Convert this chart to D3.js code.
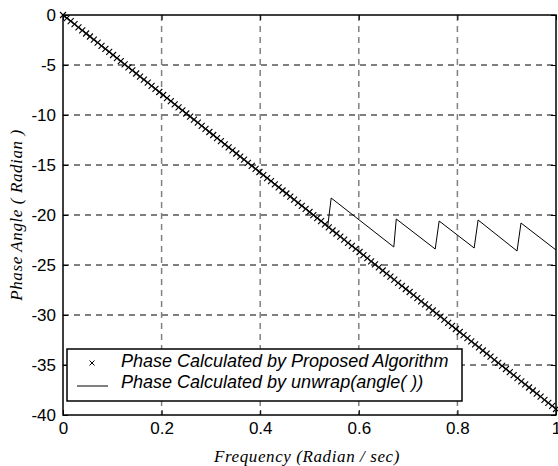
<!DOCTYPE html>
<html>
<head>
<meta charset="utf-8">
<script src="https://cdn.jsdelivr.net/npm/d3@7"></script>
<style>
body { margin: 0; background: #fff; }
svg { display: block; }
.tick text { font-family: Arial, "Liberation Sans", sans-serif; font-size: 17px; fill: #000; }
</style>
</head>
<body>
<svg id="main" width="558" height="466"></svg>
<script>
// phase from the proposed algorithm, 129 evenly spaced frequencies 0..1
var phaseProposed = [0, -0.31, -0.62, -0.92, -1.23, -1.54, -1.85, -2.15, -2.46, -2.77,
  -3.08, -3.39, -3.69, -4.00, -4.31, -4.62, -4.93, -5.23, -5.54, -5.85,
  -6.16, -6.46, -6.77, -7.08, -7.39, -7.70, -8.00, -8.31, -8.62, -8.93,
  -9.23, -9.54, -9.85, -10.16, -10.47, -10.77, -11.08, -11.39, -11.70, -12.00,
  -12.31, -12.62, -12.93, -13.24, -13.54, -13.85, -14.16, -14.47, -14.78, -15.08,
  -15.39, -15.70, -16.01, -16.31, -16.62, -16.93, -17.24, -17.55, -17.85, -18.16,
  -18.47, -18.78, -19.08, -19.39, -19.70, -20.01, -20.32, -20.62, -20.93, -21.24,
  -21.55, -21.85, -22.16, -22.47, -22.78, -23.09, -23.39, -23.70, -24.01, -24.32,
  -24.63, -24.93, -25.24, -25.55, -25.86, -26.16, -26.47, -26.78, -27.09, -27.40,
  -27.70, -28.01, -28.32, -28.63, -28.93, -29.24, -29.55, -29.86, -30.17, -30.47,
  -30.78, -31.09, -31.40, -31.70, -32.01, -32.32, -32.63, -32.94, -33.24, -33.55,
  -33.86, -34.17, -34.48, -34.78, -35.09, -35.40, -35.71, -36.01, -36.32, -36.63,
  -36.94, -37.25, -37.55, -37.86, -38.17, -38.48, -38.78, -39.09, -39.40];
// unwrap(angle()) result, vertices of the polyline
var unwrapFreq = [0, 0.537, 0.544, 0.671, 0.676, 0.755, 0.763, 0.834, 0.842, 0.921, 0.929, 1.0];
var unwrapPhase = [0, -21.1, -18.3, -23.2, -20.4, -23.4, -20.6, -23.3, -20.5, -23.6, -20.8, -23.5];
var xTicks = [0, 0.2, 0.4, 0.6, 0.8, 1];
var yTicks = [0, -5, -10, -15, -20, -25, -30, -35, -40];
var legendLabels = ["Phase Calculated by Proposed Algorithm", "Phase Calculated by unwrap(angle( ))"];

var svg = d3.select("#main");
var pL = 63, pR = 556, pT = 15, pB = 415;
var x = d3.scaleLinear().domain([0, 1]).range([pL, pR]);
var y = d3.scaleLinear().domain([-40, 0]).range([pB, pT]);

// grid
var grid = svg.append("g");
grid.selectAll("line.h").data(yTicks.slice(1, -1)).enter().append("line")
  .attr("x1", pL).attr("x2", pR).attr("y1", function(d) { return y(d); }).attr("y2", function(d) { return y(d); })
  .attr("stroke", "#000").attr("stroke-width", 1).attr("stroke-dasharray", "6,5");
grid.selectAll("line.v").data(xTicks.slice(1, -1)).enter().append("line")
  .attr("y1", pT).attr("y2", pB).attr("x1", function(d) { return x(d); }).attr("x2", function(d) { return x(d); })
  .attr("stroke", "#808080").attr("stroke-width", 1.5).attr("stroke-dasharray", "6,5");

// axes with inward ticks, plain hyphen minus like matlab
function label(d) { return String(d); }
function blackTicks(g) { g.select(".domain").remove(); g.selectAll("line").attr("stroke", "#000"); }
svg.append("g").attr("transform", "translate(0," + pB + ")")
  .call(d3.axisBottom(x).tickValues(xTicks).tickFormat(label).tickSizeInner(-5).tickSizeOuter(0).tickPadding(7))
  .call(blackTicks);
svg.append("g").attr("transform", "translate(0," + pT + ")")
  .call(d3.axisTop(x).tickValues(xTicks).tickFormat("").tickSizeInner(-5).tickSizeOuter(0))
  .call(blackTicks);
svg.append("g").attr("transform", "translate(" + pL + ",0)")
  .call(d3.axisLeft(y).tickValues(yTicks).tickFormat(label).tickSizeInner(-5).tickSizeOuter(0).tickPadding(7))
  .call(blackTicks);
svg.append("g").attr("transform", "translate(" + pR + ",0)")
  .call(d3.axisRight(y).tickValues(yTicks).tickFormat("").tickSizeInner(-5).tickSizeOuter(0))
  .call(blackTicks);
svg.selectAll(".tick text").attr("fill", "#000");

// unwrap line
var line = d3.line().x(function(d) { return x(d[0]); }).y(function(d) { return y(d[1]); });
svg.append("path").datum(d3.zip(unwrapFreq, unwrapPhase)).attr("d", line)
  .attr("fill", "none").attr("stroke", "#000").attr("stroke-width", 1);

// proposed algorithm markers
var n = phaseProposed.length;
var cross = "M-3,-3L3,3M3,-3L-3,3";
svg.append("g").selectAll("path").data(phaseProposed).enter().append("path")
  .attr("d", cross)
  .attr("transform", function(d, i) { return "translate(" + x(i / (n - 1)) + "," + y(d) + ")"; })
  .attr("stroke", "#000").attr("stroke-width", 1.1).attr("fill", "none");

// frame
svg.append("rect").attr("x", pL).attr("y", pT).attr("width", pR - pL).attr("height", pB - pT)
  .attr("fill", "none").attr("stroke", "#000").attr("stroke-width", 1.5);

// legend
var lg = svg.append("g");
lg.append("rect").attr("x", 67).attr("y", 349).attr("width", 395).attr("height", 52)
  .attr("fill", "#fff").attr("stroke", "#000").attr("stroke-width", 1.5);
lg.append("path").attr("d", "M-2.5,-2.5L2.5,2.5M2.5,-2.5L-2.5,2.5").attr("transform", "translate(92,363)")
  .attr("stroke", "#000").attr("fill", "none");
lg.append("line").attr("x1", 77).attr("x2", 108).attr("y1", 386).attr("y2", 386).attr("stroke", "#000");
lg.selectAll("text").data(legendLabels).enter().append("text")
  .attr("x", 121).attr("y", function(d, i) { return 367 + i * 21; })
  .attr("font-family", "Arial, 'Liberation Sans', sans-serif").attr("font-style", "italic").attr("font-size", 18)
  .text(function(d) { return d; });

// axis titles
svg.append("text").attr("x", 307).attr("y", 462).attr("text-anchor", "middle")
  .attr("font-family", "'Times New Roman', 'Liberation Serif', serif").attr("font-style", "italic").attr("font-size", 17)
  .attr("letter-spacing", 0.6)
  .text("Frequency (Radian / sec)");
svg.append("text").attr("transform", "translate(22," + (pT + pB) / 2 + ") rotate(-90)").attr("text-anchor", "middle")
  .attr("font-family", "'Times New Roman', 'Liberation Serif', serif").attr("font-style", "italic").attr("font-size", 17)
  .attr("letter-spacing", 0.6)
  .text("Phase Angle ( Radian )");
</script>
</body>
</html>
